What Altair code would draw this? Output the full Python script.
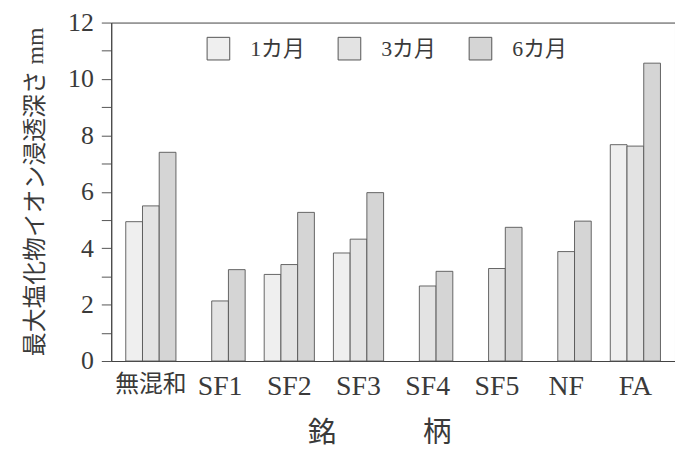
import altair as alt
import pandas as pd

categories = ["無混和", "SF1", "SF2", "SF3", "SF4", "SF5", "NF", "FA"]
series = ["1カ月", "3カ月", "6カ月"]
m1 = [4.94, None, 3.07, 3.83, None, None, None, 7.67]
m3 = [5.50, 2.13, 3.42, 4.32, 2.66, 3.28, 3.88, 7.62]
m6 = [7.40, 3.24, 5.27, 5.97, 3.18, 4.74, 4.96, 10.56]
fills = ["#efefef", "#e3e3e3", "#d5d5d5"]

rows = []
for s, vals in zip(series, [m1, m3, m6]):
    for c, v in zip(categories, vals):
        if v is not None:
            rows.append({"銘柄": c, "期間": s, "値": v})
df = pd.DataFrame(rows)

FONT = "Liberation Serif, Noto Sans CJK JP"
INK = "#3a3a3a"

chart = alt.Chart(df).mark_bar(stroke="#555555", strokeWidth=0.9).encode(
    x=alt.X("銘柄:N", sort=categories,
            scale=alt.Scale(paddingInner=0.275, paddingOuter=0.21),
            axis=alt.Axis(title="銘　　　柄", labelAngle=0, ticks=False,
                          labelFontSize={"condition": {"test": "datum.value == '無混和'", "value": 24},
                                         "value": 28},
                          labelPadding=12, labelFont=FONT,
                          labelColor=INK, titleFont=FONT, titleFontSize=29,
                          titleFontWeight="normal", titleColor=INK,
                          titleX=270, titleY=81, titleAlign="center",
                          titleBaseline="alphabetic", domainColor="#444444")),
    xOffset=alt.XOffset("期間:N", sort=series,
                        scale=alt.Scale(domain=series, paddingInner=0, paddingOuter=0)),
    y=alt.Y("値:Q", scale=alt.Scale(domain=[0, 12], nice=False),
            axis=alt.Axis(title="最大塩化物イオン浸透深さ mm",
                          values=list(range(13)),
                          labelExpr="datum.value % 2 == 0 ? datum.label : ''",
                          grid=False, tickSize=10, tickColor="#555555",
                          labelFontSize=26, labelFont=FONT, labelColor=INK,
                          labelPadding=8, titleFont=FONT, titleFontSize=24,
                          titleFontWeight="normal", titleColor=INK,
                          titleX=-76, titleY=170, titleAlign="center",
                          titleBaseline="middle", domainColor="#444444")),
    fill=alt.Fill("期間:N", sort=series,
                  scale=alt.Scale(domain=series, range=fills),
                  legend=alt.Legend(title=None, orient="none", legendX=96, legendY=14,
                                    direction="horizontal", symbolType="square",
                                    symbolSize=520, symbolStrokeColor="#555555",
                                    symbolStrokeWidth=1, labelFontSize=22,
                                    labelFont=FONT, labelColor=INK, labelOffset=20,
                                    columnPadding=30)),
).properties(
    width=568, height=341,
    autosize=alt.AutoSizeParams(type="none"),
    padding={"left": 104, "top": 13, "right": 0, "bottom": 90},
).configure_view(stroke="#444444", strokeWidth=1)

chart.save("out.html", embed_options={"renderer": "svg", "actions": False})
